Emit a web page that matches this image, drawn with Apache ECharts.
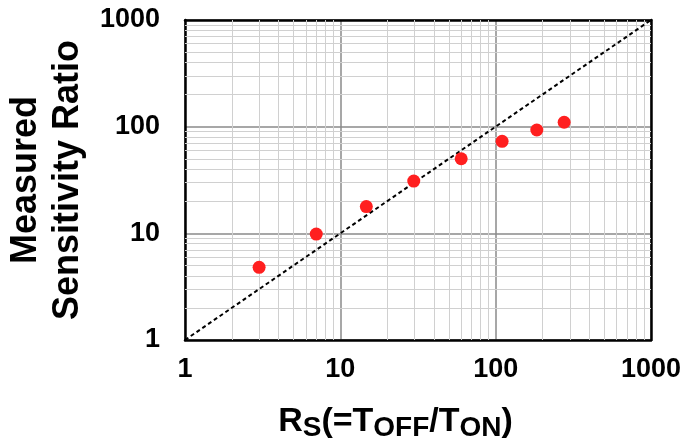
<!DOCTYPE html>
<html>
<head>
<meta charset="utf-8">
<script src="https://cdn.jsdelivr.net/npm/echarts@6/dist/echarts.min.js"></script>
<style>html,body{margin:0;padding:0;background:#fff;}#c{width:683px;height:441px;}</style>
</head>
<body>
<div id="c"></div>
<script>
// Data
const rsValues = [3, 7, 14.7, 29.7, 60, 110, 184, 276];
const ratioValues = [4.8, 9.85, 17.8, 30.9, 50, 72.8, 93, 110];
const refLineX = [1, 1000];
const refLineY = [1, 1000];
const axisMin = 1, axisMax = 1000;

const FONT = 'Liberation Sans, Arial, sans-serif';
const points = rsValues.map((x, i) => [x, ratioValues[i]]);
const refLine = refLineX.map((x, i) => [x, refLineY[i]]);

// minor grid values (2..9 in each decade)
const minorVals = [];
for (let d = 1; d < axisMax; d *= 10) for (let k = 2; k <= 9; k++) minorVals.push(k * d);
const minorStyle = { color: '#d0d0d0', width: 1, type: 'solid' };
const minorLines = [];
minorVals.forEach(v => {
  minorLines.push({ xAxis: v, lineStyle: minorStyle });
  minorLines.push({ yAxis: v, lineStyle: minorStyle });
});
const plain = v => String(Math.round(v));

const chart = echarts.init(document.getElementById('c'), null, { renderer: 'canvas' });
chart.setOption({
  animation: false,
  backgroundColor: '#fff',
  grid: { left: 185, right: 32, top: 20, bottom: 101, containLabel: false, outerBoundsMode: 'none' },
  xAxis: [{
    type: 'log', logBase: 10, min: axisMin, max: axisMax, position: 'bottom',
    axisLine: { show: true, onZero: false, lineStyle: { color: '#000', width: 2.5 } },
    axisTick: { show: false },
    axisLabel: { fontFamily: FONT, fontWeight: 'bold', fontSize: 27, color: '#000', margin: 16, formatter: plain, hideOverlap: false },
    splitLine: { show: true, lineStyle: { color: '#8a8a8a', width: 1.5 } },
    name: '{b|R}{s|S}{b|(=T}{s|OFF}{b|/T}{s|ON}{b|)}',
    nameLocation: 'middle', nameGap: 62,
    nameTextStyle: {
      fontFamily: FONT, fontWeight: 'bold', fontSize: 34, color: '#000', padding: [0, 45, 0, 0],
      rich: {
        b: { fontFamily: FONT, fontWeight: 'bold', fontSize: 34, color: '#000', lineHeight: 40, verticalAlign: 'middle' },
        s: { fontFamily: FONT, fontWeight: 'bold', fontSize: 28, color: '#000', lineHeight: 26, verticalAlign: 'bottom' }
      }
    }
  }, {
    type: 'log', logBase: 10, min: axisMin, max: axisMax, position: 'top',
    axisLine: { show: true, onZero: false, lineStyle: { color: '#000', width: 2.5 } },
    axisTick: { show: false }, axisLabel: { show: false }, splitLine: { show: false }
  }],
  yAxis: [{
    type: 'log', logBase: 10, min: axisMin, max: axisMax, position: 'left',
    axisLine: { show: true, onZero: false, lineStyle: { color: '#000', width: 2.5 } },
    axisTick: { show: false },
    axisLabel: { fontFamily: FONT, fontWeight: 'bold', fontSize: 27, color: '#000', margin: 25, formatter: plain, hideOverlap: false },
    splitLine: { show: true, lineStyle: { color: '#8a8a8a', width: 1.5 } },
    name: 'Measured\nSensitivity Ratio',
    nameLocation: 'middle', nameRotate: 90, nameGap: 94,
    nameTextStyle: { fontFamily: FONT, fontWeight: 'bold', fontSize: 36, color: '#000', lineHeight: 42 }
  }, {
    type: 'log', logBase: 10, min: axisMin, max: axisMax, position: 'right',
    axisLine: { show: true, onZero: false, lineStyle: { color: '#000', width: 2.5 } },
    axisTick: { show: false }, axisLabel: { show: false }, splitLine: { show: false }
  }],
  series: [{
    type: 'line', data: refLine, showSymbol: false, symbol: 'none', z: 3,
    lineStyle: { color: '#000', width: 2, type: [4, 3] },
    markLine: { silent: true, symbol: 'none', label: { show: false }, data: minorLines, z: 1 }
  }, {
    type: 'scatter', data: points, symbol: 'circle', symbolSize: 13, z: 4,
    itemStyle: { color: '#ff1f1f', opacity: 1 }
  }]
});
</script>
</body>
</html>
